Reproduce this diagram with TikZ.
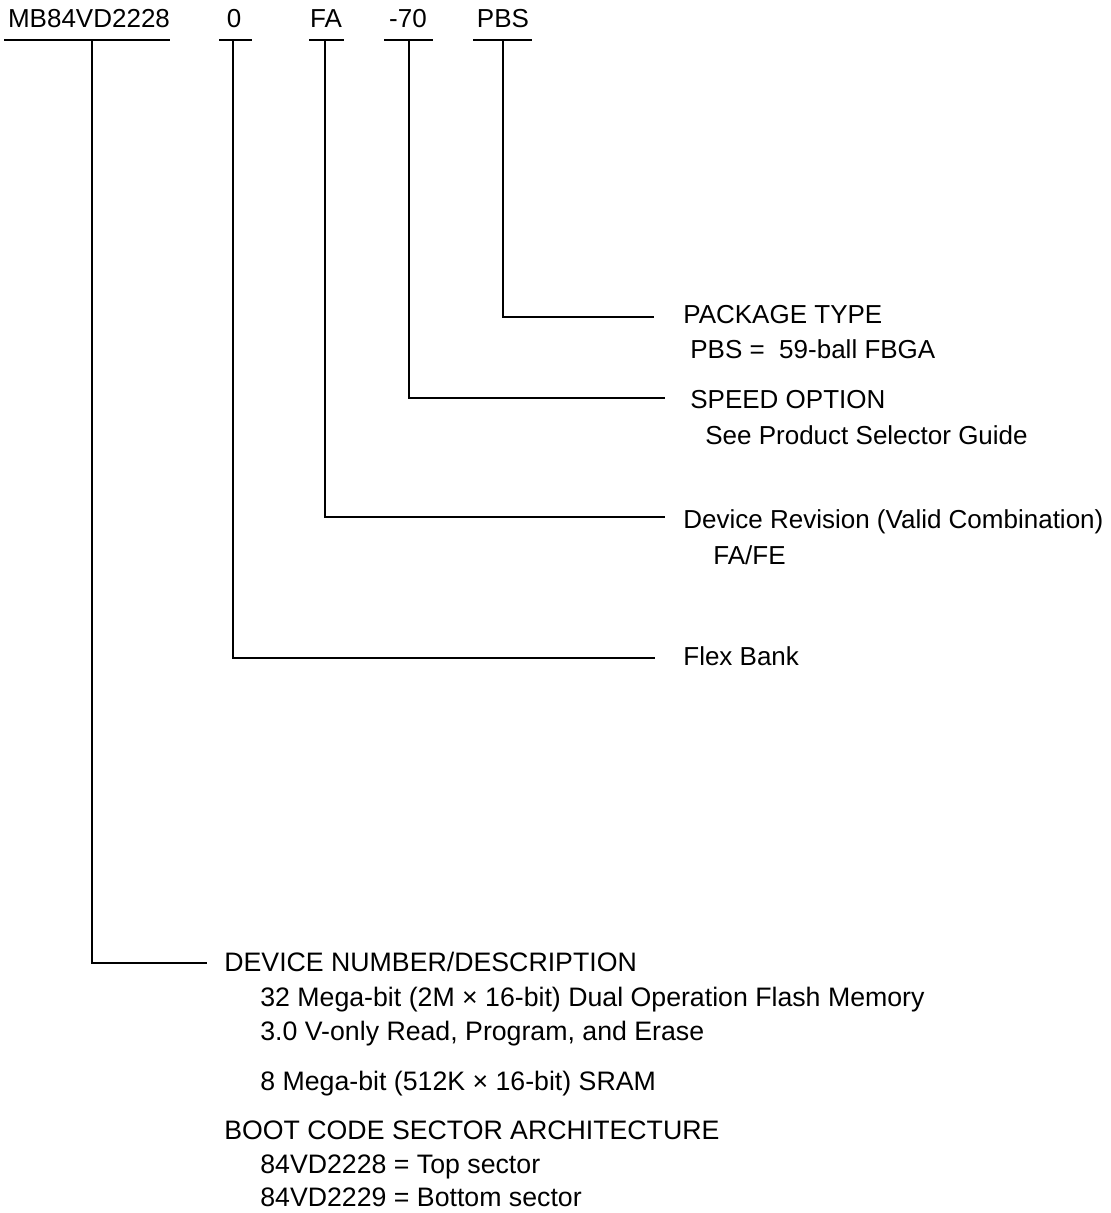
\documentclass[tikz,border=0pt]{standalone}
\usepackage{fontspec}
\setmainfont{Liberation Sans}
\begin{document}
\begin{tikzpicture}[x=0.02cm,y=-0.02cm,
  code/.style={anchor=base,inner sep=0pt,font=\fontsize{14.8}{17}\selectfont},
  lbl/.style={anchor=base west,inner sep=0pt,font=\fontsize{14.8}{17}\selectfont},
  desc/.style={lbl,font=\fontsize{15.2}{17}\selectfont},
  lead/.style={line width=1.1pt}]
\useasboundingbox (0,0) rectangle (1110,1213);
\node[code] (mb) at (89,28) {MB84VD2228};
\node[code] (flex) at (234,28) {0};
\node[code] (rev) at (326,28) {FA};
\node[code] (spd) at (408,28) {-70};
\node[code] (pkg) at (503,28) {PBS};
\draw[lead] (4,40) -- (170,40);
\draw[lead] (219,40) -- (252,40);
\draw[lead] (309,40) -- (344,40);
\draw[lead] (384,40) -- (433,40);
\draw[line width=0.6pt] (473,40) -- (532,40);
\coordinate (mbtap) at (92,40);
\coordinate (flextap) at (233,40);
\coordinate (revtap) at (325,40);
\coordinate (spdtap) at (409,40);
\coordinate (pkgtap) at (503,40);
\coordinate (mbend) at (207,963);
\coordinate (flexend) at (655,658);
\coordinate (revend) at (665,517);
\coordinate (spdend) at (665,398);
\coordinate (pkgend) at (654,317);
\draw[lead] (pkgtap) |- (pkgend);
\draw[lead] (spdtap) |- (spdend);
\draw[lead] (revtap) |- (revend);
\draw[lead] (flextap) |- (flexend);
\draw[lead] (mbtap) |- (mbend);
\node[lbl] (pkghead) at (683,323) {PACKAGE TYPE};
\node[lbl] (pkgval) at (690,358) {PBS =\ \ 59-ball FBGA};
\node[lbl] (spdhead) at (690,408) {SPEED OPTION};
\node[lbl] (spdval) at (705,444) {See Product Selector Guide};
\node[lbl] (revhead) at (683,528) {Device Revision (Valid Combination)};
\node[lbl] (revval) at (713,564) {FA/FE};
\node[lbl] (flexhead) at (683,665) {Flex Bank};
\node[desc] (mbhead) at (224,971) {DEVICE NUMBER/DESCRIPTION};
\node[desc] (mbflash) at (260,1006) {32 Mega-bit (2M × 16-bit) Dual Operation Flash Memory};
\node[desc] (mbvolt) at (260,1040) {3.0 V-only Read, Program, and Erase};
\node[desc] (mbsram) at (260,1090) {8 Mega-bit (512K × 16-bit) SRAM};
\node[desc] (boothead) at (224,1139) {BOOT CODE SECTOR ARCHITECTURE};
\node[desc] (boottop) at (260,1173) {84VD2228 = Top sector};
\node[desc] (bootbot) at (260,1206) {84VD2229 = Bottom sector};
\end{tikzpicture}
\end{document}
